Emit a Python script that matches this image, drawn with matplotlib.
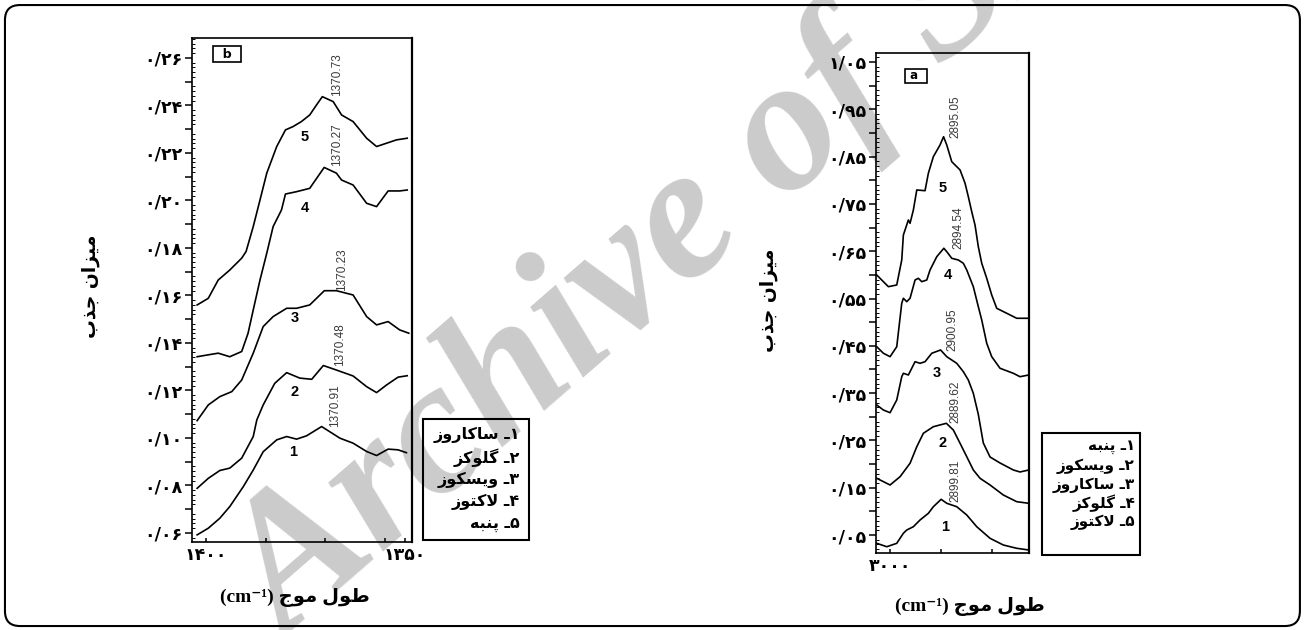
import matplotlib.pyplot as plt
from matplotlib.patches import FancyBboxPatch, Rectangle
from matplotlib.ticker import FixedLocator, FixedFormatter

plt.rcParams['font.family'] = ['DejaVu Sans']
plt.rcParams['axes.linewidth'] = 1.2

# panel b: 1400-1350 cm-1 region
b1_x = [1402.2, 1399.4, 1396.5, 1394.0, 1390.6, 1388.1, 1385.6, 1382.2, 1379.7, 1377.2, 1374.7, 1370.91,
        1366.3, 1363.0, 1359.6, 1357.1, 1354.2, 1351.7, 1349.6]
b1_y = [0.0592, 0.0620, 0.0662, 0.0711, 0.0795, 0.0865, 0.0942, 0.0992, 0.1006, 0.0995, 0.1009, 0.1048,
        0.0999, 0.0978, 0.0943, 0.0926, 0.0953, 0.0950, 0.0938]
b2_x = [1402.2, 1399.4, 1396.5, 1394.0, 1391.0, 1388.1, 1387.2, 1385.6, 1382.7, 1379.7, 1376.4, 1373.4,
        1370.48, 1367.2, 1363.0, 1359.6, 1357.1, 1354.6, 1351.7, 1349.4]
b2_y = [0.0788, 0.0830, 0.0863, 0.0873, 0.0915, 0.1006, 0.1076, 0.1139, 0.1230, 0.1275, 0.1252, 0.1247,
        0.1305, 0.1286, 0.1261, 0.1216, 0.1191, 0.1223, 0.1256, 0.1262]
b3_x = [1402.2, 1399.4, 1396.5, 1393.5, 1391.0, 1388.1, 1385.6, 1383.1, 1379.7, 1377.2, 1373.9, 1370.23,
        1367.2, 1363.0, 1359.6, 1357.1, 1354.2, 1351.3, 1349.0]
b3_y = [0.1073, 0.1139, 0.1174, 0.1195, 0.1244, 0.1357, 0.1469, 0.1511, 0.1546, 0.1546, 0.1560, 0.1620,
        0.1620, 0.1602, 0.1511, 0.1476, 0.1490, 0.1455, 0.1441]
b4_x = [1402.2, 1399.4, 1396.9, 1394.0, 1391.0, 1389.4, 1388.1, 1386.4, 1384.7, 1383.1, 1381.0, 1380.0,
        1377.2, 1373.9, 1370.27, 1367.2, 1365.9, 1363.0, 1359.6, 1357.1, 1354.2, 1351.3, 1349.4]
b4_y = [0.1342, 0.1350, 0.1357, 0.1342, 0.1364, 0.1441, 0.1539, 0.1665, 0.1778, 0.1890, 0.1960, 0.2027,
        0.2037, 0.2051, 0.2139, 0.2115, 0.2086, 0.2065, 0.1988, 0.1974, 0.2040, 0.2040, 0.2044]
b5_x = [1402.2, 1399.4, 1396.9, 1394.0, 1391.0, 1389.9, 1388.1, 1386.4, 1384.7, 1382.2, 1380.0, 1378.1,
        1376.0, 1373.9, 1372.2, 1370.73, 1368.0, 1365.9, 1363.0, 1361.3, 1359.6, 1357.1, 1354.6, 1352.1, 1349.4]
b5_y = [0.1560, 0.1588, 0.1665, 0.1707, 0.1757, 0.1785, 0.1890, 0.2002, 0.2115, 0.2227, 0.2297, 0.2311,
        0.2332, 0.2360, 0.2402, 0.2437, 0.2416, 0.2360, 0.2332, 0.2297, 0.2262, 0.2227, 0.2241, 0.2255, 0.2262]
peaks_b = ['1370.91', '1370.48', '1370.23', '1370.27', '1370.73']
names_b = ['ساکاروز', 'گلوکز', 'ویسکوز', 'لاکتوز', 'پنبه']
yticks_b = [0.06, 0.08, 0.10, 0.12, 0.14, 0.16, 0.18, 0.20, 0.22, 0.24, 0.26]
xticks_b = [1400, 1350]

# panel a: C-H stretching region
a1_x = [3026.1, 3006.5, 2986.9, 2973.9, 2967.3, 2954.3, 2941.2, 2924.9, 2915.1, 2899.81, 2888.8, 2869.2,
        2849.6, 2830.0, 2803.9, 2777.8, 2751.6, 2728.0]
a1_y = [0.0325, 0.0253, 0.0325, 0.0537, 0.0606, 0.0676, 0.0818, 0.0959, 0.1099, 0.1255, 0.1171, 0.1099,
        0.0924, 0.0676, 0.0431, 0.0289, 0.0220, 0.0184]
a2_x = [3026.1, 3000.0, 2980.4, 2960.8, 2947.6, 2934.7, 2915.1, 2889.62, 2875.9, 2862.7, 2849.6, 2836.7,
        2823.5, 2803.9, 2777.8, 2751.6, 2728.0]
a2_y = [0.1699, 0.1558, 0.1733, 0.2017, 0.2367, 0.2651, 0.2790, 0.2862, 0.2720, 0.2439, 0.2156, 0.1875,
        0.1699, 0.1558, 0.1346, 0.1205, 0.1171]
a3_x = [3026.1, 3013.1, 3000.0, 2986.9, 2977.1, 2973.9, 2964.1, 2951.0, 2941.2, 2931.4, 2918.2, 2900.95,
        2888.8, 2869.2, 2856.3, 2846.5, 2836.7, 2826.9, 2817.1, 2803.9, 2784.3, 2758.2, 2745.1, 2728.0]
a3_y = [0.3249, 0.3143, 0.3086, 0.3355, 0.3847, 0.3919, 0.3883, 0.4164, 0.4130, 0.4164, 0.4342, 0.4412,
        0.4270, 0.4130, 0.3953, 0.3777, 0.3496, 0.3050, 0.2446, 0.2150, 0.2023, 0.1875, 0.1833, 0.1875]
a4_x = [3026.1, 3013.1, 3000.0, 2986.9, 2977.1, 2973.9, 2967.3, 2960.8, 2951.0, 2944.5, 2937.8, 2928.0,
        2921.6, 2908.4, 2894.54, 2888.8, 2879.0, 2866.1, 2856.3, 2849.6, 2836.7, 2826.9, 2820.2, 2810.4,
        2800.6, 2784.3, 2758.2, 2745.1, 2728.0]
a4_y = [0.4481, 0.4342, 0.4270, 0.4481, 0.5399, 0.5505, 0.5433, 0.5505, 0.5891, 0.5927, 0.5856, 0.5891,
        0.6103, 0.6384, 0.6562, 0.6490, 0.6350, 0.6314, 0.6245, 0.6103, 0.5750, 0.5327, 0.5046, 0.4553,
        0.4270, 0.4025, 0.3919, 0.3847, 0.3883]
a5_x = [3026.1, 3003.3, 2986.9, 2977.1, 2973.9, 2964.1, 2960.8, 2954.3, 2947.6, 2931.4, 2924.9, 2915.1,
        2902.0, 2895.05, 2888.8, 2879.0, 2862.7, 2852.9, 2846.5, 2839.8, 2833.3, 2826.9, 2820.2, 2810.4,
        2800.6, 2790.8, 2771.2, 2751.6, 2728.0]
a5_y = [0.5997, 0.5750, 0.5786, 0.6314, 0.6843, 0.7160, 0.7090, 0.7371, 0.7794, 0.7779, 0.8147, 0.8498,
        0.8745, 0.8920, 0.8745, 0.8392, 0.8217, 0.7936, 0.7652, 0.7335, 0.7050, 0.6595, 0.6245, 0.5927,
        0.5574, 0.5293, 0.5188, 0.5082, 0.5082]
peaks_a = ['2899.81', '2889.62', '2900.95', '2894.54', '2895.05']
names_a = ['پنبه', 'ویسکوز', 'ساکاروز', 'گلوکز', 'لاکتوز']
yticks_a = [0.05, 0.15, 0.25, 0.35, 0.45, 0.55, 0.65, 0.75, 0.85, 0.95, 1.05]
xticks_a = [3000]

y_title = 'میزان جذب'
x_title = 'طول موج'

# contextual forms: isolated, final, initial, medial
FORMS = {
    'ا': ('\uFE8D', '\uFE8E', None, None),
    'ب': ('\uFE8F', '\uFE90', '\uFE91', '\uFE92'),
    'پ': ('\uFB56', '\uFB57', '\uFB58', '\uFB59'),
    'ت': ('\uFE95', '\uFE96', '\uFE97', '\uFE98'),
    'ج': ('\uFE9D', '\uFE9E', '\uFE9F', '\uFEA0'),
    'ذ': ('\uFEAB', '\uFEAC', None, None),
    'ر': ('\uFEAD', '\uFEAE', None, None),
    'ز': ('\uFEAF', '\uFEB0', None, None),
    'س': ('\uFEB1', '\uFEB2', '\uFEB3', '\uFEB4'),
    'ط': ('\uFEC1', '\uFEC2', '\uFEC3', '\uFEC4'),
    'ک': ('\uFB8E', '\uFB8F', '\uFB90', '\uFB91'),
    'گ': ('\uFB92', '\uFB93', '\uFB94', '\uFB95'),
    'ل': ('\uFEDD', '\uFEDE', '\uFEDF', '\uFEE0'),
    'م': ('\uFEE1', '\uFEE2', '\uFEE3', '\uFEE4'),
    'ن': ('\uFEE5', '\uFEE6', '\uFEE7', '\uFEE8'),
    'ه': ('\uFEE9', '\uFEEA', '\uFEEB', '\uFEEC'),
    'و': ('\uFEED', '\uFEEE', None, None),
    'ی': ('\uFBFC', '\uFBFD', '\uFBFE', '\uFBFF'),
}
TATWEEL = '\u0640'


def joins_next(c):
    return c == TATWEEL or (c in FORMS and FORMS[c][2] is not None)


def joins_prev(c):
    return c == TATWEEL or c in FORMS


def shape(text):
    # matplotlib has no bidi/shaping, so pick the glyph forms and reverse
    out = []
    i = 0
    while i < len(text):
        c = text[i]
        linked = i > 0 and joins_next(text[i - 1]) and joins_prev(c)
        if c == 'ل' and i + 1 < len(text) and text[i + 1] == 'ا':
            out.append('\uFEFC' if linked else '\uFEFB')
            i += 2
            continue
        if c not in FORMS:
            out.append(c)
            i += 1
            continue
        nxt = text[i + 1] if i + 1 < len(text) else ''
        iso, fin, ini, med = FORMS[c]
        to_next = ini is not None and joins_prev(nxt)
        if linked and to_next:
            out.append(med)
        elif linked:
            out.append(fin)
        elif to_next:
            out.append(ini)
        else:
            out.append(iso)
        i += 1
    return ''.join(reversed(out))


FA = str.maketrans('0123456789.', '۰۱۲۳۴۵۶۷۸۹/')


def fa_num(v, fmt='{:.2f}'):
    return fmt.format(v).translate(FA)


def setup_axis(ax, yticks, xticks, xminor, xlim, ylim):
    step = yticks[1] - yticks[0]
    major = []
    labels = []
    for t in yticks:
        major += [t, t + step / 2]
        labels += [fa_num(t), '']
    ax.yaxis.set_major_locator(FixedLocator(major[:-1]))
    ax.yaxis.set_major_formatter(FixedFormatter(labels[:-1]))
    minor = [yticks[0] - step / 2 + k * step / 10 for k in range(int(round((len(yticks) + 1) * 10)))]
    ax.yaxis.set_minor_locator(FixedLocator(minor))
    ax.tick_params(axis='y', which='major', direction='out', length=5, width=1.1, pad=2,
                   labelsize=12.5)
    ax.tick_params(axis='y', which='minor', direction='in', length=2.5, width=0.7)
    ax.set_xticks(xticks)
    ax.set_xticklabels([fa_num(t, '{:.0f}') for t in xticks])
    ax.xaxis.set_minor_locator(FixedLocator(xminor))
    ax.tick_params(axis='x', which='both', direction='in', length=3, width=1.1, pad=3, labelsize=12.5)
    for lab in ax.get_xticklabels() + ax.get_yticklabels():
        lab.set_fontweight('bold')
    ax.set_xlim(*xlim)
    ax.set_ylim(*ylim)
    ax.set_facecolor('none')
    ax.spines['right'].set_linewidth(1.6)


fig = plt.figure(figsize=(13.05, 6.3), dpi=100)

# watermark running diagonally across the page
fig.text(0.5395, 0.651, 'Archive of SID', fontsize=137, family='Liberation Serif', style='italic',
         weight='bold', color='#cbcbcb', rotation=41, ha='center', va='center', zorder=-1)

# outer frame
fig.patches.append(FancyBboxPatch((0.0038, 0.0063), 0.9923, 0.9857,
                                  boxstyle='round,pad=0,rounding_size=0.0115', mutation_aspect=2.07,
                                  transform=fig.transFigure, fill=False, lw=1.5, ec='black'))

axb = fig.add_axes([0.1471, 0.1397, 0.1686, 0.8])
axa = fig.add_axes([0.6713, 0.1222, 0.1172, 0.7937])

curves_b = [(b1_x, b1_y), (b2_x, b2_y), (b3_x, b3_y), (b4_x, b4_y), (b5_x, b5_y)]
curves_a = [(a1_x, a1_y), (a2_x, a2_y), (a3_x, a3_y), (a4_x, a4_y), (a5_x, a5_y)]

for x, y in curves_b:
    axb.plot(x, y, color='black', lw=1.2)
for x, y in curves_a:
    axa.plot(x, y, color='black', lw=1.2)

setup_axis(axb, yticks_b, xticks_b, [1385, 1370, 1355], (1403.5, 1348.2), (0.0562, 0.2684))
setup_axis(axa, yticks_a, xticks_a, [2900, 2800], (3027.5, 2727.5), (0.012, 1.069))

narrow = ['Liberation Sans Narrow', 'DejaVu Sans Condensed', 'Liberation Sans']

# peak positions (rotated) and curve numbers
peak_pos_b = [(1367.6, 0.1135), (1366.3, 0.1392), (1365.8, 0.1707), (1367.1, 0.2234), (1367.1, 0.2528)]
num_pos_b = [(1378.1, 0.0941), (1377.6, 0.1194), (1377.6, 0.1505), (1375.1, 0.1969), (1375.1, 0.2267)]
for k in range(5):
    axb.text(*peak_pos_b[k], peaks_b[k], rotation=90, ha='center', va='center', fontsize=8.5,
             family=narrow, color='#3a3a3a')
    axb.text(*num_pos_b[k], str(k + 1), ha='center', va='center', fontsize=10.5,
             family='Liberation Sans', weight='bold')

peak_pos_a = [(2872.5, 0.1642), (2872.5, 0.3312), (2878.4, 0.4834), (2866.7, 0.699), (2872.5, 0.9337)]
num_pos_a = [(2892.2, 0.067), (2896.1, 0.2446), (2907.8, 0.3926), (2886.3, 0.5997), (2896.1, 0.7836)]
for k in range(5):
    axa.text(*peak_pos_a[k], peaks_a[k], rotation=90, ha='center', va='center', fontsize=8.5,
             family=narrow, color='#3a3a3a')
    axa.text(*num_pos_a[k], str(k + 1), ha='center', va='center', fontsize=10.5,
             family='Liberation Sans', weight='bold')

# panel tags
axb.text(0.159, 0.968, '  b  ', transform=axb.transAxes, ha='center', va='center', fontsize=9,
         weight='bold', bbox=dict(boxstyle='square,pad=0.1', fc='white', ec='black', lw=1.2))
axa.text(0.261, 0.954, ' a  ', transform=axa.transAxes, ha='center', va='center', fontsize=8.5,
         weight='bold', bbox=dict(boxstyle='square,pad=0.05', fc='white', ec='black', lw=1.2))

# axis titles
for x0, y0 in [(0.0697, 0.546), (0.589, 0.524)]:
    fig.text(x0, y0, shape(y_title), rotation=90, ha='center', va='center', fontsize=13.5, weight='bold')
for x0, y0 in [(0.226, 0.051), (0.743, 0.038)]:
    fig.text(x0, y0, '(cm⁻¹) ' + shape(x_title), ha='center', va='center', fontsize=14,
             weight='bold', family=['Liberation Serif', 'DejaVu Sans'])

# sample keys
fig.patches.append(Rectangle((423 / 1305, 1 - 540 / 630), 106 / 1305, 121 / 630,
                             transform=fig.transFigure, fill=False, lw=1.5, ec='black'))
for k, (name, yy) in enumerate(zip(names_b, [435, 458, 480, 502, 524])):
    fig.text(520 / 1305, 1 - yy / 630, shape(fa_num(k + 1, '{:d}') + TATWEEL + ' ' + name),
             ha='right', va='center', fontsize=11.5, weight='bold')

fig.patches.append(Rectangle((1042 / 1305, 1 - 555 / 630), 98 / 1305, 122 / 630,
                             transform=fig.transFigure, fill=False, lw=1.5, ec='black'))
for k, (name, yy) in enumerate(zip(names_a, [447, 466, 485, 503, 522])):
    fig.text(1135 / 1305, 1 - yy / 630, shape(fa_num(k + 1, '{:d}') + TATWEEL + ' ' + name),
             ha='right', va='center', fontsize=11, weight='bold')

fig.savefig('out.png', dpi=100)
